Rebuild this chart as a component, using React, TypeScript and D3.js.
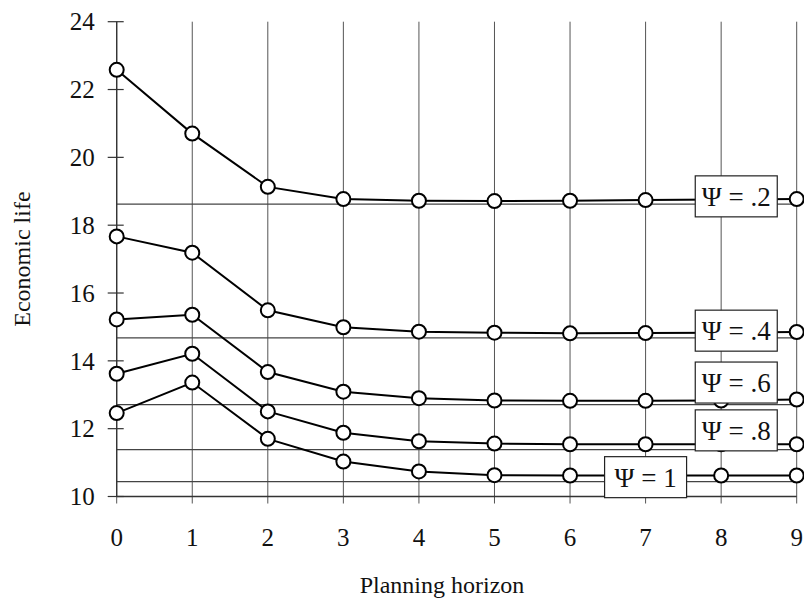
import React from "react";
import * as d3 from "d3";

// planning horizon 0..9
const horizon = [0, 1, 2, 3, 4, 5, 6, 7, 8, 9];
const yTicks = [10, 12, 14, 16, 18, 20, 22, 24];

// economic life for each psi
const psi02 = [22.58, 20.7, 19.13, 18.77, 18.72, 18.71, 18.72, 18.74, 18.76, 18.77];
const psi04 = [17.67, 17.19, 15.49, 14.99, 14.86, 14.83, 14.81, 14.82, 14.83, 14.85];
const psi06 = [15.22, 15.36, 13.67, 13.09, 12.9, 12.83, 12.82, 12.82, 12.83, 12.86];
const psi08 = [13.62, 14.21, 12.51, 11.88, 11.63, 11.56, 11.54, 11.54, 11.54, 11.54];
const psi10 = [12.46, 13.36, 11.7, 11.03, 10.74, 10.63, 10.62, 10.62, 10.62, 10.62];

// thin horizontal reference lines
const refLines = [18.62, 14.68, 12.71, 11.38, 10.44];

// label boxes: text, centre x (horizon), centre y (life)
const labelText = ["Ψ = .2", "Ψ = .4", "Ψ = .6", "Ψ = .8", "Ψ = 1"];
const labelX = [8.2, 8.2, 8.2, 8.2, 7.0];
const labelY = [18.85, 14.89, 13.36, 11.95, 10.57];

const series = [psi02, psi04, psi06, psi08, psi10];

const font = "'Liberation Serif', 'Times New Roman', serif";

export default function App() {
  const width = 804;
  const height = 605;

  const x = d3.scaleLinear().domain([0, 9]).range([116.7, 796.7]);
  const y = d3.scaleLinear().domain([10, 24]).range([496.5, 21.7]);

  const line = d3
    .line<number>()
    .x((d, i) => x(horizon[i]))
    .y((d) => y(d));

  return (
    <svg
      width={width}
      height={height}
      style={{ position: "absolute", left: 0, top: 0, background: "#fff" }}
      fontFamily={font}
    >
      {/* vertical grid lines */}
      {horizon.map((h) => (
        <line
          key={"v" + h}
          x1={x(h)}
          x2={x(h)}
          y1={y(24)}
          y2={y(10) + 7}
          stroke="#555"
          strokeWidth={1}
        />
      ))}
      {/* reference lines + axis */}
      {refLines.map((r) => (
        <line
          key={"r" + r}
          x1={x(0)}
          x2={x(9)}
          y1={y(r)}
          y2={y(r)}
          stroke="#444"
          strokeWidth={1.2}
        />
      ))}
      <line x1={x(0)} x2={x(9)} y1={y(10)} y2={y(10)} stroke="#333" strokeWidth={1.3} />
      <line x1={x(0)} x2={x(0)} y1={y(24)} y2={y(10)} stroke="#333" strokeWidth={1.3} />

      {/* y ticks */}
      {yTicks.map((t) => (
        <g key={"yt" + t}>
          <line x1={x(0) - 9} x2={x(0) + 7} y1={y(t)} y2={y(t)} stroke="#333" strokeWidth={1.2} />
          <text
            x={x(0) - 22}
            y={y(t)}
            dy="0.35em"
            textAnchor="end"
            fontSize={25}
            fill="#111"
          >
            {t}
          </text>
        </g>
      ))}

      {/* x tick labels */}
      {horizon.map((h) => (
        <text
          key={"xt" + h}
          x={x(h)}
          y={537}
          dy="0.35em"
          textAnchor="middle"
          fontSize={25}
          fill="#111"
        >
          {h}
        </text>
      ))}

      {/* axis titles */}
      <text x={442} y={585} dy="0.35em" textAnchor="middle" fontSize={24} fill="#111">
        Planning horizon
      </text>
      <text
        transform={`translate(22, ${y(17)}) rotate(-90)`}
        dy="0.35em"
        textAnchor="middle"
        fontSize={24}
        fill="#111"
      >
        Economic life
      </text>

      {/* series */}
      {series.map((s, k) => (
        <g key={"s" + k}>
          <path d={line(s) ?? ""} fill="none" stroke="#000" strokeWidth={2} />
          {s.map((v, i) => (
            <circle
              key={i}
              cx={x(horizon[i])}
              cy={y(v)}
              r={7}
              fill="#fff"
              stroke="#000"
              strokeWidth={2}
            />
          ))}
        </g>
      ))}

      {/* label boxes */}
      {labelText.map((t, k) => (
        <g key={"lb" + k} transform={`translate(${x(labelX[k])}, ${y(labelY[k])})`}>
          <rect x={-41} y={-20.5} width={82} height={41} fill="#fff" stroke="#222" strokeWidth={1.2} />
          <text dy="0.35em" textAnchor="middle" fontSize={27} fill="#111">
            {t}
          </text>
        </g>
      ))}
    </svg>
  );
}
